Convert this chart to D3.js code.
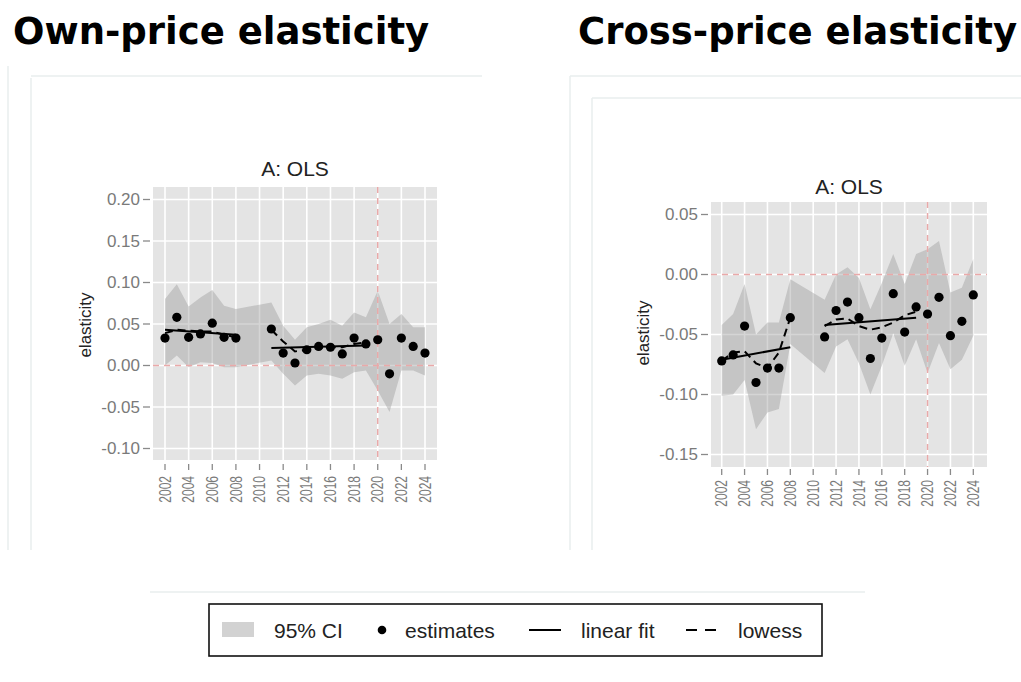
<!DOCTYPE html>
<html>
<head>
<meta charset="utf-8">
<script src="https://cdn.jsdelivr.net/npm/d3@7"></script>
<style>
  html, body { margin: 0; padding: 0; background: #fff; }
  svg { display: block; }
</style>
</head>
<body>
<svg id="chart" width="1021" height="682"></svg>
<script>
// ---------------- DATA ----------------
const years = [2002,2003,2004,2005,2006,2007,2008,2011,2012,2013,2014,2015,2016,2017,2018,2019,2020,2021,2022,2023,2024];
const xTickLabels = [2002,2004,2006,2008,2010,2012,2014,2016,2018,2020,2022,2024];

// Own-price elasticity
const ownEst   = [0.033,0.058,0.034,0.038,0.051,0.034,0.033,0.044,0.015,0.003,0.019,0.023,0.022,0.014,0.033,0.026,0.031,-0.010,0.033,0.023,0.015];
const ownUpper = [0.080,0.098,0.071,0.082,0.091,0.072,0.068,0.076,0.048,0.031,0.046,0.050,0.055,0.048,0.064,0.058,0.090,0.050,0.062,0.046,0.046];
const ownLower = [0.000,0.012,-0.002,0.004,0.003,-0.002,-0.002,0.006,-0.010,-0.024,-0.012,-0.010,-0.012,-0.016,-0.008,-0.006,-0.030,-0.056,-0.006,-0.006,-0.012];
const ownYTicks = [-0.10,-0.05,0.00,0.05,0.10,0.15,0.20];

// Cross-price elasticity
const crossEst   = [-0.072,-0.067,-0.043,-0.090,-0.078,-0.078,-0.036,-0.052,-0.030,-0.023,-0.036,-0.070,-0.053,-0.016,-0.048,-0.027,-0.033,-0.019,-0.051,-0.039,-0.017];
const crossUpper = [-0.042,-0.033,-0.008,-0.050,-0.040,-0.040,-0.004,-0.021,0.000,0.006,-0.003,-0.029,-0.007,0.017,-0.008,0.017,0.021,0.028,-0.015,-0.011,0.013];
const crossLower = [-0.101,-0.100,-0.088,-0.129,-0.115,-0.112,-0.058,-0.082,-0.060,-0.054,-0.074,-0.100,-0.076,-0.049,-0.076,-0.054,-0.082,-0.057,-0.079,-0.071,-0.051];
const crossYTicks = [-0.15,-0.10,-0.05,0.00,0.05];

// Fit segments (pre-2009 and 2011-2019)
const seg1Years = [2002,2003,2004,2005,2006,2007,2008];
const seg2Years = [2011,2012,2013,2014,2015,2016,2017,2018,2019];
const linYears1 = [2002,2008];
const linYears2 = [2011,2019];

const ownLin1 = [0.043,0.037];
const ownLin2 = [0.021,0.024];
const ownLowess1 = [0.039,0.043,0.042,0.041,0.041,0.037,0.034];
const ownLowess2 = [0.043,0.029,0.017,0.019,0.021,0.022,0.022,0.026,0.028];

const crossLin1 = [-0.071,-0.0606];
const crossLin2 = [-0.042,-0.036];
const crossLowess1 = [-0.072,-0.065,-0.064,-0.074,-0.078,-0.065,-0.036];
const crossLowess2 = [-0.043,-0.0375,-0.0367,-0.043,-0.046,-0.044,-0.040,-0.034,-0.031];

const legendLabels = ["95% CI","estimates","linear fit","lowess"];

// ---------------- DRAW ----------------
const svg = d3.select("#chart");
const FONT = "'Liberation Sans', Arial, Helvetica, sans-serif";
const frameColor = "#e8eeee";
const fmt = d => d3.format(".2f")(d).replace("\u2212","-");

// faint frames
function fl(x1,y1,x2,y2){ svg.append("line").attr("x1",x1).attr("y1",y1).attr("x2",x2).attr("y2",y2)
  .attr("stroke",frameColor).attr("stroke-width",1.5); }
fl(8,66,8,550); fl(31,76,482,76); fl(31,78,31,550);
fl(570,76,1021,76); fl(570,76,570,550); fl(592,98,1021,98); fl(592,98,592,550);
fl(150,592,865,592);

// headers
svg.append("text").attr("x",13).attr("y",44).text("Own-price elasticity")
  .attr("font-family","'DejaVu Sans', sans-serif").attr("font-weight","bold").attr("font-size",37).attr("fill","#000");
svg.append("text").attr("x",578).attr("y",44).text("Cross-price elasticity")
  .attr("font-family","'DejaVu Sans', sans-serif").attr("font-weight","bold").attr("font-size",37).attr("fill","#000");

function drawPanel(c){
  const g = svg.append("g");
  const x = d3.scaleLinear().domain([2002,2024]).range([c.x2002, c.x2024]);
  const y = d3.scaleLinear().domain(c.yDomain).range(c.yRange);

  // plot region
  g.append("rect").attr("x",c.left).attr("y",c.top).attr("width",c.right-c.left).attr("height",c.bottom-c.top)
    .attr("fill","#e4e4e4");

  // grid
  g.selectAll(".hg").data(c.yTicks).enter().append("line")
    .attr("x1",c.left).attr("x2",c.right).attr("y1",d=>y(d)).attr("y2",d=>y(d))
    .attr("stroke","#fff").attr("stroke-width",1.6);
  g.selectAll(".vg").data(xTickLabels).enter().append("line")
    .attr("y1",c.top).attr("y2",c.bottom).attr("x1",d=>x(d)).attr("x2",d=>x(d))
    .attr("stroke","#fff").attr("stroke-width",1.6);

  // CI band
  const band = years.map((yr,i)=>({yr, lo:c.lower[i], hi:c.upper[i]}));
  g.append("path").datum(band)
    .attr("d", d3.area().x(d=>x(d.yr)).y0(d=>y(d.lo)).y1(d=>y(d.hi)))
    .attr("fill","#969696").attr("fill-opacity",0.4);

  // reference lines
  g.append("line").attr("x1",c.left).attr("x2",c.right).attr("y1",y(0)).attr("y2",y(0))
    .attr("stroke","#e9a9a9").attr("stroke-width",1.5).attr("stroke-dasharray","6,5");
  g.append("line").attr("x1",x(2020)).attr("x2",x(2020)).attr("y1",c.top).attr("y2",c.bottom)
    .attr("stroke","#e9a9a9").attr("stroke-width",1.5).attr("stroke-dasharray","6,5");

  // linear fits
  const ln = d3.line().x(d=>x(d[0])).y(d=>y(d[1]));
  [[linYears1,c.lin1],[linYears2,c.lin2]].forEach(([ys,vs])=>{
    g.append("path").datum(ys.map((yy,i)=>[yy,vs[i]])).attr("d",ln)
      .attr("fill","none").attr("stroke","#000").attr("stroke-width",2);
  });
  // lowess
  [[seg1Years,c.low1],[seg2Years,c.low2]].forEach(([ys,vs])=>{
    g.append("path").datum(ys.map((yy,i)=>[yy,vs[i]])).attr("d",ln)
      .attr("fill","none").attr("stroke","#000").attr("stroke-width",2).attr("stroke-dasharray","8,5");
  });

  // estimates
  g.selectAll(".pt").data(years.map((yr,i)=>[yr,c.est[i]])).enter().append("circle")
    .attr("cx",d=>x(d[0])).attr("cy",d=>y(d[1])).attr("r",4.6).attr("fill","#000");

  // y axis
  const ax = c.left - 3;
  g.selectAll(".yt").data(c.yTicks).enter().append("line")
    .attr("x1",ax-7).attr("x2",ax).attr("y1",d=>y(d)).attr("y2",d=>y(d))
    .attr("stroke","#8a8a8a").attr("stroke-width",1.3);
  g.selectAll(".yl").data(c.yTicks).enter().append("text")
    .attr("x",ax-10).attr("y",d=>y(d)).attr("text-anchor","end").attr("dominant-baseline","central")
    .attr("font-family",FONT).attr("font-size",17).attr("fill","#7a7a7a")
    .text(d=>fmt(d));

  // x axis
  g.selectAll(".xt").data(xTickLabels).enter().append("line")
    .attr("x1",d=>x(d)).attr("x2",d=>x(d)).attr("y1",c.bottom+c.xtOff).attr("y2",c.bottom+c.xtOff+6)
    .attr("stroke","#8a8a8a").attr("stroke-width",1.3);
  g.selectAll(".xl").data(xTickLabels).enter().append("text")
    .attr("transform",d=>`translate(${x(d)},${c.bottom+c.xlOff}) rotate(-90) scale(1,1.3)`)
    .attr("text-anchor","end").attr("dominant-baseline","central")
    .attr("font-family",FONT).attr("font-size",12).attr("fill","#7a7a7a")
    .text(d=>d);

  // y label
  g.append("text").attr("transform",`translate(${c.ylabX},${c.ylabY}) rotate(-90)`)
    .attr("text-anchor","middle").attr("dominant-baseline","central")
    .attr("font-family",FONT).attr("font-size",17).attr("fill","#222").text("elasticity");

  // title
  g.append("text").attr("x",(c.left+c.right)/2).attr("y",c.titleY).attr("text-anchor","middle")
    .attr("font-family",FONT).attr("font-size",21).attr("fill","#222").text("A: OLS");
}

drawPanel({left:153,right:437,top:187,bottom:460,x2002:165,x2024:425,
  yDomain:[-0.10,0.20],yRange:[448.5,199.5],yTicks:ownYTicks,
  est:ownEst,upper:ownUpper,lower:ownLower,lin1:ownLin1,lin2:ownLin2,low1:ownLowess1,low2:ownLowess2,
  xtOff:4,xlOff:16,ylabX:85,ylabY:325,titleY:176});

drawPanel({left:711,right:987,top:202,bottom:467,x2002:721.7,x2024:973.3,
  yDomain:[-0.15,0.05],yRange:[454.5,214.5],yTicks:crossYTicks,
  est:crossEst,upper:crossUpper,lower:crossLower,lin1:crossLin1,lin2:crossLin2,low1:crossLowess1,low2:crossLowess2,
  xtOff:2,xlOff:13,ylabX:643,ylabY:333,titleY:194});

// ---------------- LEGEND ----------------
const lg = svg.append("g");
lg.append("rect").attr("x",209).attr("y",604).attr("width",613).attr("height",52)
  .attr("fill","#fff").attr("stroke","#111").attr("stroke-width",1.6);
const ly = 630;
lg.append("rect").attr("x",222).attr("y",622).attr("width",32).attr("height",15).attr("fill","#d2d2d2");
lg.append("circle").attr("cx",382).attr("cy",ly).attr("r",4.3).attr("fill","#000");
lg.append("line").attr("x1",529).attr("x2",561).attr("y1",ly).attr("y2",ly).attr("stroke","#000").attr("stroke-width",2);
lg.append("line").attr("x1",686).attr("x2",716).attr("y1",ly).attr("y2",ly).attr("stroke","#000").attr("stroke-width",2)
  .attr("stroke-dasharray","11,8");
const lx = [274,405,581,738];
lg.selectAll(".lt").data(legendLabels).enter().append("text")
  .attr("x",(d,i)=>lx[i]).attr("y",ly).attr("dominant-baseline","central")
  .attr("font-family",FONT).attr("font-size",21).attr("fill","#222").text(d=>d);
</script>
</body>
</html>
